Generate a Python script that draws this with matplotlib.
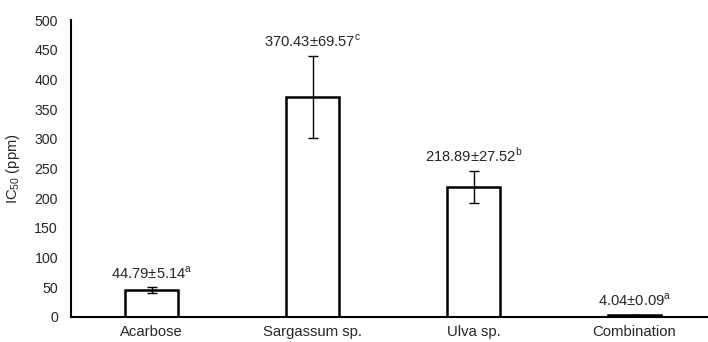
import matplotlib
matplotlib.use("Agg")
import matplotlib.pyplot as plt

categories = ["Acarbose", "Sargassum sp.", "Ulva sp.", "Combination"]
values = [44.79, 370.43, 218.89, 4.04]
errors = [5.14, 69.57, 27.52, 0.09]
letters = ["a", "c", "b", "a"]
yticks = [0, 50, 100, 150, 200, 250, 300, 350, 400, 450, 500]

plt.rcParams['font.family'] = ['Liberation Sans', 'DejaVu Sans']
plt.rcParams['mathtext.fontset'] = 'custom'
plt.rcParams['mathtext.rm'] = 'Liberation Sans'

fig = plt.figure(figsize=(7.08, 3.42), dpi=100)
ax = fig.add_axes([0.1003, 0.0731, 0.9096, 0.8684])
x = list(range(len(categories)))
ax.bar(x, values, width=0.325, color="white", edgecolor="black", linewidth=1.8,
       yerr=errors, error_kw=dict(ecolor="black", elinewidth=1.0, capsize=3.3, capthick=1.0))
txtc = "#262626"
for xi, v, e, l in zip(x, values, errors, letters):
    ax.annotate(f"{v:.2f}±{e:.2f}$^{{\\mathregular{{{l}}}}}$", (xi, v + e), xytext=(0, 4),
                textcoords="offset points", ha="center", va="bottom", fontsize=10.6, color=txtc)
ax.set_xlim(-0.5, 3.5)
ax.set_ylim(0, 500)
ax.set_yticks(yticks)
ax.set_xticks(x)
ax.set_xticklabels(categories, fontsize=10.7, color=txtc)
ax.tick_params(axis='y', length=0, labelsize=10.2, labelcolor=txtc, pad=9.4)
ax.tick_params(axis='x', length=0, pad=6)
for s in ["top", "right"]:
    ax.spines[s].set_visible(False)
ax.spines["left"].set_linewidth(1.5)
ax.spines["bottom"].set_linewidth(1.5)
ax.set_ylabel("IC$_{\\mathregular{50}}$ (ppm)", fontsize=10.6, color=txtc, labelpad=9)
fig.savefig("out.png", dpi=100)
